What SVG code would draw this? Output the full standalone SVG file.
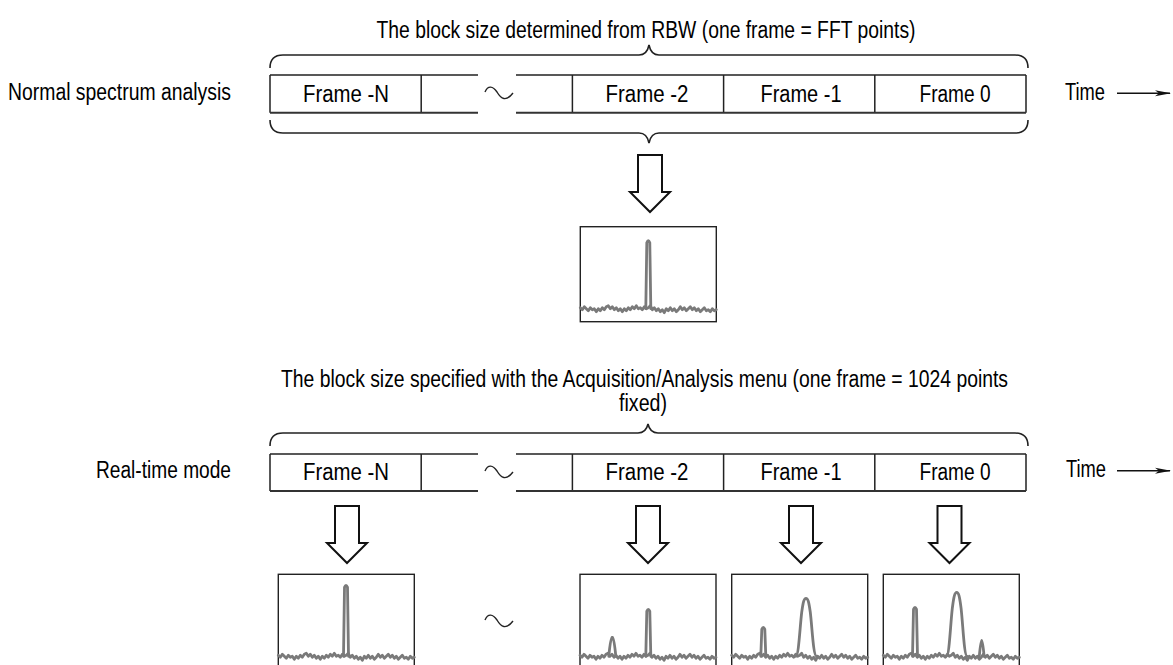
<svg xmlns="http://www.w3.org/2000/svg" width="1173" height="665" viewBox="0 0 1173 665">
<style>
text{font-family:"Liberation Sans",Arial,sans-serif;font-size:23px;fill:#000}
.mid{text-anchor:middle}
.bar{fill:none;stroke:#222;stroke-width:1.5}
.barb{fill:none;stroke:#333;stroke-width:2}
.brace{fill:none;stroke:#222;stroke-width:1.6}
.tilde{fill:none;stroke:#222;stroke-width:1.4}
.dn{fill:#fff;stroke:#111;stroke-width:2;stroke-linejoin:miter}
.box{fill:#fff;stroke:#222;stroke-width:1.4}
.tr{fill:none;stroke:#7a7a7a;stroke-width:2.8;stroke-linejoin:round;stroke-linecap:round}
.tl{stroke:#111;stroke-width:1.4}
</style>
<defs>
<marker id="ah" viewBox="0 0 16 8" refX="15" refY="4" markerWidth="16" markerHeight="8" markerUnits="userSpaceOnUse" orient="auto">
<path d="M0,1 L16,4 L0,7 L4,4 Z" fill="#111"/>
</marker>
<path id="noise" class="tr" d="M0,81 L2,83 L4,80 L6,82 L8,84 L10,81 L12,83 L14,82 L16,85 L18,82 L20,84 L22,81 L24,83 L26,80 L28,79 L30,82 L32,80 L34,83 L36,81 L38,84 L40,82 L42,85 L44,82 L46,84 L48,81 L50,83 L52,80 L54,82 L56,79 L58,82 L60,81 L62,83 L64,80 L66,82 L68,81 L70,79 L72,83 L74,81 L76,84 L78,82 L80,85 L82,83 L84,86 L86,82 L88,84 L90,81 L92,84 L94,82 L96,85 L98,83 L100,80 L102,83 L104,81 L106,84 L108,82 L110,80 L112,83 L114,81 L116,84 L118,82 L120,85 L122,83 L124,81 L126,84 L128,83 L130,85 L132,82 L134,84 L136,83"/>
<path id="tildeA" class="tilde" d="M-14,0 C-11,-7 -6,-6 -2,0 C2,7 7,10 14,1"/>
</defs>

<g id="title-normal">
<text x="646" y="38" class="mid" textLength="539" lengthAdjust="spacingAndGlyphs">The block size determined from RBW (one frame = FFT points)</text>
</g>
<g id="label-normal">
<text x="8" y="100" textLength="223" lengthAdjust="spacingAndGlyphs">Normal spectrum analysis</text>
</g>

<g id="bar-normal">
<path class="bar" d="M270,75 H478 M516,75 H1026 M270,75 V112.7 M421.2,75 V112.7 M572.4,75 V112.7 M723.6,75 V112.7 M874.8,75 V112.7 M1026,75 V112.7"/>
<path class="barb" d="M270,112.7 H478 M516,112.7 H1026"/>
<use href="#tildeA" x="499" y="92"/>
<text x="346" y="102" class="mid" textLength="86" lengthAdjust="spacingAndGlyphs">Frame -N</text>
<text x="647" y="102" class="mid" textLength="83" lengthAdjust="spacingAndGlyphs">Frame -2</text>
<text x="801" y="102" class="mid" textLength="81" lengthAdjust="spacingAndGlyphs">Frame -1</text>
<text x="955" y="102" class="mid" textLength="71" lengthAdjust="spacingAndGlyphs">Frame 0</text>
</g>
<g id="time-normal">
<text x="1065" y="100" textLength="40" lengthAdjust="spacingAndGlyphs">Time</text>
</g>

<g id="spectrum-normal" transform="translate(580.3,226.7)">
<rect class="box" x="0" y="0" width="136" height="95"/>
<use href="#noise"/>
<path class="tr" d="M65.5,82 L66.5,16 Q68,12 69.5,16 L70.5,82"/>
</g>

<g id="title-realtime">
<text x="644.5" y="387" class="mid" textLength="727" lengthAdjust="spacingAndGlyphs">The block size specified with the Acquisition/Analysis menu (one frame = 1024 points</text>
<text x="643" y="411" class="mid" textLength="48" lengthAdjust="spacingAndGlyphs">fixed)</text>
</g>
<g id="label-realtime">
<text x="96" y="478" textLength="135" lengthAdjust="spacingAndGlyphs">Real-time mode</text>
</g>

<g id="bar-realtime">
<path class="bar" d="M270,454 H478 M516,454 H1026 M270,454 V491 M421.2,454 V491 M572.4,454 V491 M723.6,454 V491 M874.8,454 V491 M1026,454 V491"/>
<path class="barb" d="M270,491 H478 M516,491 H1026"/>
<use href="#tildeA" x="499" y="471"/>
<text x="346" y="480" class="mid" textLength="86" lengthAdjust="spacingAndGlyphs">Frame -N</text>
<text x="647" y="480" class="mid" textLength="83" lengthAdjust="spacingAndGlyphs">Frame -2</text>
<text x="801" y="480" class="mid" textLength="81" lengthAdjust="spacingAndGlyphs">Frame -1</text>
<text x="955" y="480" class="mid" textLength="71" lengthAdjust="spacingAndGlyphs">Frame 0</text>
</g>
<g id="time-realtime">
<text x="1066" y="477" textLength="40" lengthAdjust="spacingAndGlyphs">Time</text>
</g>

<g id="spectrum-rt-N" transform="translate(278.3,574.3)">
<rect class="box" x="0" y="0" width="136" height="95"/>
<use href="#noise"/>
<path class="tr" d="M65.2,82 L66.2,13 Q67.7,9 69.2,13 L70.2,82"/>
</g>
<g id="spectrum-rt-2" transform="translate(580,574.3)">
<rect class="box" x="0" y="0" width="136" height="95"/>
<use href="#noise"/>
<path class="tr" d="M28.8,82 Q30.5,64 32.3,63 Q34.1,64 35.8,82"/>
<path class="tr" d="M65.8,82 L66.8,37 Q68.3,33 69.8,37 L70.8,82"/>
</g>
<g id="spectrum-rt-1" transform="translate(731.7,574.3)">
<rect class="box" x="0" y="0" width="136" height="95"/>
<use href="#noise"/>
<path class="tr" d="M29.1,82 L30.1,55 Q31.6,51 33.1,55 L34.1,82"/>
<path class="tr" d="M64,82 C67,82 68,55 70,38 C71.5,27 72.5,24 74.3,24 C76.1,24 77.1,27 78.6,38 C80.6,55 81.6,82 85,82"/>
</g>
<g id="spectrum-rt-0" transform="translate(883.3,574.3)">
<rect class="box" x="0" y="0" width="136" height="95"/>
<use href="#noise"/>
<path class="tr" d="M29.2,82 L30.2,35 Q31.7,31 33.2,35 L34.2,82"/>
<path class="tr" d="M63,82 C66,82 67,52 69,34 C70.5,22 71.5,18 73.4,18 C75.3,18 76.3,22 77.8,34 C79.8,52 80.8,82 84,82"/>
<path class="tr" d="M96,82 Q97.4,66 98.4,66 Q99.4,66 100.8,82"/>
</g>
<g id="tilde-spectra">
<use href="#tildeA" x="499" y="620"/>
</g>

<g id="connectors">
<path class="brace" d="M270,68 Q270,55 283,55 H639 Q647,55 649,45 Q651,55 659,55 H1015 Q1028,55 1028,68"/>
<path class="brace" d="M270,120 Q270,133 283,133 H639 Q647,133 649,143 Q651,133 659,133 H1015 Q1028,133 1028,120"/>
<path class="brace" d="M270,446 Q270,433 283,433 H638 Q646,433 648,424 Q650,433 658,433 H1015 Q1028,433 1028,446"/>
<polygon class="dn" points="638,155 662,155 662,192 670,192 650,212 630,192 638,192"/>
<polygon class="dn" points="335,506 359,506 359,543 367,543 347,563 327,543 335,543"/>
<polygon class="dn" points="636,506 660,506 660,543 668,543 648,563 628,543 636,543"/>
<polygon class="dn" points="789,506 813,506 813,543 821,543 801,563 781,543 789,543"/>
<polygon class="dn" points="937.5,506 961.5,506 961.5,543 969.5,543 949.5,563 929.5,543 937.5,543"/>
<line class="tl" x1="1117" y1="93.3" x2="1170" y2="93.3" marker-end="url(#ah)"/>
<line class="tl" x1="1117" y1="470.7" x2="1170" y2="470.7" marker-end="url(#ah)"/>
</g>
</svg>
